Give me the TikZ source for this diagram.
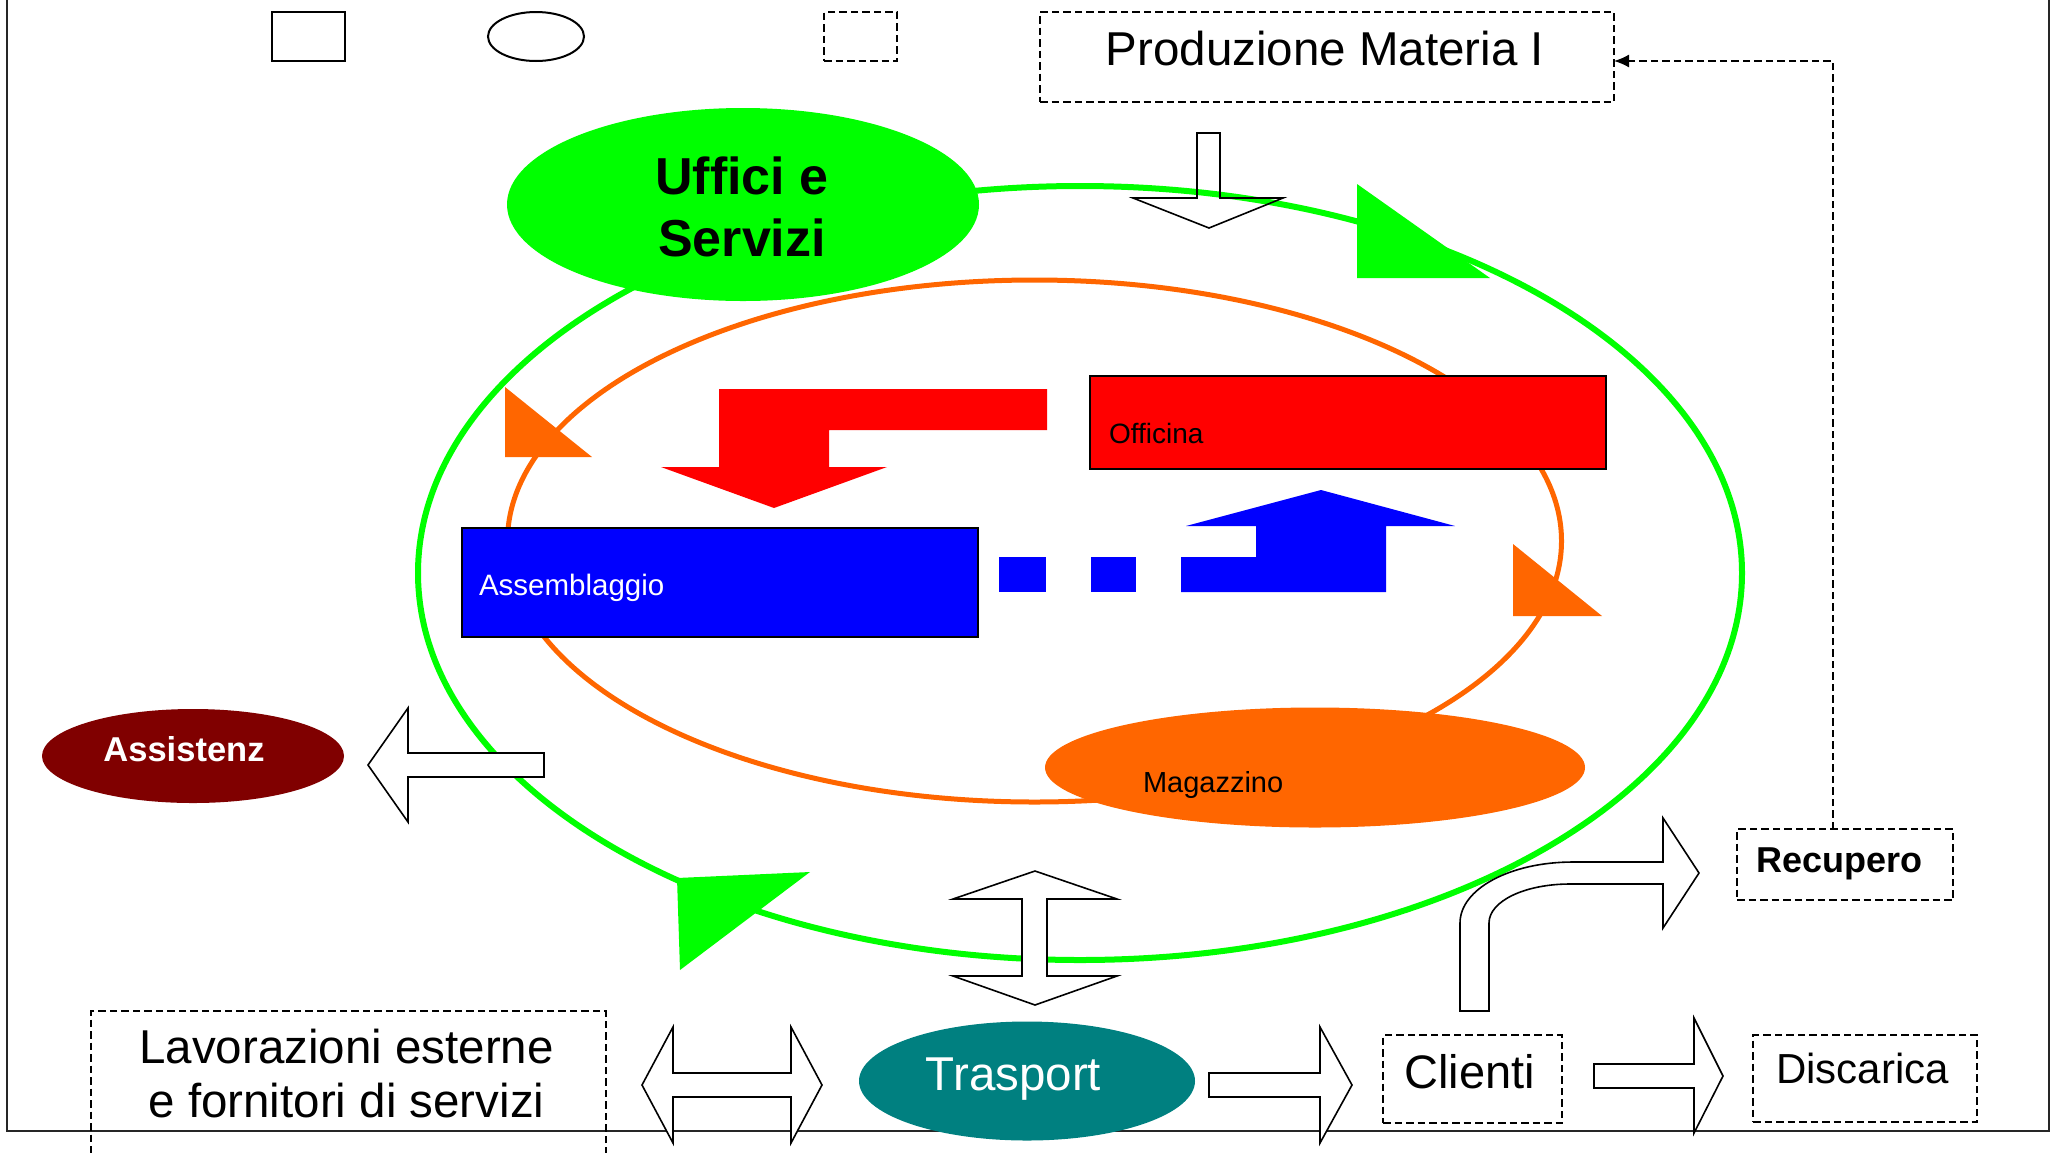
\documentclass[tikz,border=0pt]{standalone}
\usepackage{fontspec}
\setmainfont{Liberation Sans}
\usetikzlibrary{shapes.geometric,arrows.meta}

\definecolor{ringgreen}{HTML}{00FF00}
\definecolor{ringorange}{HTML}{FF6600}
\definecolor{boxred}{HTML}{FF0000}
\definecolor{boxblue}{HTML}{0000FF}
\definecolor{maroon}{HTML}{800000}
\definecolor{tealx}{HTML}{008080}

\newcommand\fsz[1]{\fontsize{#1}{#1}\selectfont}

\tikzset{
  flat/.style={inner sep=0pt, outer sep=0pt},
  oval/.style={flat, ellipse},
  plainbox/.style={flat, rectangle, draw=black, line width=1pt},
  dashbox/.style={flat, rectangle, draw=black, line width=1pt, dash pattern=on 3.75pt off 2pt},
  txt/.style={flat, anchor=base},
  blockarrow/.style={draw=black, line width=0.8pt, fill=white, line join=miter},
  linkdash/.style={draw=black, line width=0.8pt, dash pattern=on 3.75pt off 2pt,
                   -{Latex[length=7.5pt,width=6.5pt]}},
}

\begin{document}
\begin{tikzpicture}[x=0.5pt,y=-0.5pt]
\clip (0,0) rectangle (2055,1152);

% page frame
\draw[line width=1pt, black!85] (7,-10) -- (7,1131) -- (2049,1131) -- (2049,-10);

% legend shapes
\node[plainbox, minimum width=36.5pt, minimum height=24.5pt] (legrect) at (308.5,36.5) {};
\node[oval, draw=black, line width=1pt, minimum width=48pt, minimum height=24.5pt] (legoval) at (536,36.5) {};
\node[dashbox, minimum width=36.5pt, minimum height=24.5pt] (legdash) at (860.5,36.5) {};

% outer cycle
\node[oval, draw=ringgreen, line width=3pt, minimum width=662pt, minimum height=387pt] (outerring) at (1080,573) {};
\node[oval, fill=ringgreen, minimum width=236pt, minimum height=96.5pt] (uffici) at (743,204.5) {};
\node[txt] (tuff1) at (742,194) {\fsz{26}\bfseries Uffici e};
\node[txt] (tuff2) at (742,256) {\fsz{26}\bfseries Servizi};
\fill[ringgreen] (1357,184) -- (1357,278) -- (1490,278) -- cycle;
\fill[ringgreen] (677,878) -- (810,872) -- (680,970) -- cycle;

% input from production
\draw[draw=black, line width=0.8pt, line join=miter]
  (1197,133) -- (1220,133) -- (1220,198) -- (1283,198) -- (1209,228) -- (1133,198) -- (1197,198) -- cycle;

% inner cycle
\node[oval, draw=ringorange, line width=2.5pt, minimum width=527pt, minimum height=261pt] (innerring) at (1034.5,541) {};
\fill[ringorange] (505,387) -- (505,457) -- (592,457) -- cycle;
\fill[ringorange] (1513,544) -- (1513,616) -- (1602,616) -- cycle;

\node[plainbox, fill=boxred, minimum width=258pt, minimum height=46.5pt] (officina) at (1348,422.5) {};
\node[txt, anchor=base west] (toff) at (1109,443) {\fsz{14}Officina};
\node[plainbox, fill=boxblue, minimum width=258pt, minimum height=54.5pt] (assembl) at (720,582.5) {};
\node[txt, anchor=base west, text=white] (tass) at (479,595) {\fsz{14.75}Assemblaggio};

% flows between workshop and assembly
\fill[boxred] (1047,389) -- (719,389) -- (719,467) -- (661,467) -- (774,508) -- (887,467)
  -- (829,467) -- (829,430) -- (1047,430) -- cycle;
\fill[boxblue] (999,557) rectangle (1046,592);
\fill[boxblue] (1091,557) rectangle (1136,592);
\fill[boxblue] (1181,557) -- (1256,557) -- (1256,526) -- (1186,526) -- (1321,490) -- (1455,526)
  -- (1386,526) -- (1386,592) -- (1181,592) -- cycle;

\node[oval, fill=ringorange, minimum width=270pt, minimum height=60pt] (magazzino) at (1315,767.5) {};
\node[txt, anchor=base west] (tmag) at (1143,792) {\fsz{14.5}Magazzino};

% assistance
\node[oval, fill=maroon, minimum width=151pt, minimum height=47pt] (assist) at (193,756) {};
\node[txt, text=white] (tassist) at (184,761) {\fsz{17.25}\bfseries Assistenz};
\draw[blockarrow] (544,753) -- (408,753) -- (408,708) -- (368,765) -- (408,822) -- (408,777) -- (544,777) -- cycle;

% transport
\draw[blockarrow] (1035,871) -- (1117,899) -- (1047,899) -- (1047,976) -- (1117,976) -- (1035,1005)
  -- (953,976) -- (1022,976) -- (1022,899) -- (953,899) -- cycle;
\node[oval, fill=tealx, minimum width=168pt, minimum height=59.5pt] (trasporto) at (1027,1081) {};
\node[txt, text=white] (ttras) at (1013.5,1090) {\fsz{23.75}Trasport};

\draw[blockarrow] (642,1085) -- (673,1027) -- (673,1073) -- (791,1073) -- (791,1027) -- (822,1085)
  -- (791,1143) -- (791,1097) -- (673,1097) -- (673,1143) -- cycle;
\draw[blockarrow] (1209,1073) -- (1320,1073) -- (1320,1027) -- (1352,1085) -- (1320,1143)
  -- (1320,1097) -- (1209,1097) -- cycle;
\draw[blockarrow] (1594,1064) -- (1694,1064) -- (1694,1018) -- (1723,1076) -- (1694,1133)
  -- (1694,1088) -- (1594,1088) -- cycle;
\draw[blockarrow] (1460,1011) -- (1460,923) .. controls (1460,889) and (1510,862) .. (1573,862)
  -- (1663,862) -- (1663,818) -- (1699,873) -- (1663,928) -- (1663,884) -- (1570,884)
  .. controls (1525,884) and (1489,901) .. (1489,923) -- (1489,1011) -- cycle;

% external boxes
\node[dashbox, minimum width=287pt, minimum height=45pt] (prod) at (1327,57) {};
\node[txt] (tprod) at (1325,65) {\fsz{23.75}Produzione Materia I};

\node[dashbox, minimum width=257.5pt, minimum height=84.5pt] (lavor) at (348.5,1095.5) {};
\node[txt] (tlav1) at (346.5,1063) {\fsz{23.75}Lavorazioni esterne};
\node[txt] (tlav2) at (346.5,1117) {\fsz{23.75}e fornitori di servizi};

\node[dashbox, minimum width=89.5pt, minimum height=44pt] (clienti) at (1472.5,1079) {};
\node[txt] (tcli) at (1469.5,1088) {\fsz{23.5}Clienti};

\node[dashbox, minimum width=112pt, minimum height=43.5pt] (discarica) at (1865,1078.5) {};
\node[txt] (tdis) at (1862.5,1083) {\fsz{21}Discarica};

\node[dashbox, minimum width=108pt, minimum height=35.5pt] (recupero) at (1845,864.5) {};
\node[txt] (trec) at (1839.5,872) {\fsz{18}\bfseries Recupero};

% recovery feeds back into production
\draw[linkdash] ([xshift=-6pt]recupero.north) |- ([yshift=-2pt]prod.east);
\end{tikzpicture}
\end{document}
